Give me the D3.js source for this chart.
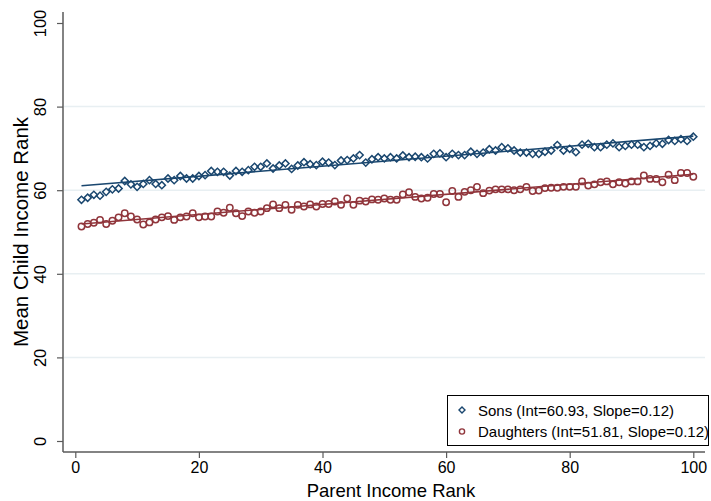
<!DOCTYPE html>
<html>
<head>
<meta charset="utf-8">
<script src="https://cdn.jsdelivr.net/npm/d3@7"></script>
<style>
  html, body { margin: 0; padding: 0; background: #fff; }
  svg { display: block; font-family: "Liberation Sans", Arial, sans-serif; }
</style>
</head>
<body>
<svg id="chart" width="711" height="501"></svg>
<script>
// Parent income rank (1..100)
const parentRank = d3.range(1, 101);

// Mean child income rank, sons
const sonsRank = [
  57.7, 58.2, 58.9, 58.7, 59.6, 60.2, 60.4, 62.2, 61.4, 60.8,
  61.5, 62.4, 61.5, 61.2, 62.8, 62.4, 63.4, 62.8, 62.8, 63.4,
  63.6, 64.6, 64.4, 64.4, 63.5, 64.6, 64.4, 64.8, 65.6, 65.6,
  66.4, 65.2, 65.9, 66.4, 65.1, 65.9, 66.7, 66.2, 66.0, 66.8,
  66.6, 66.0, 67.1, 67.2, 67.6, 68.4, 66.6, 67.4, 67.9, 67.6,
  67.9, 67.6, 68.3, 67.9, 68.0, 67.9, 67.6, 68.7, 68.8, 67.9,
  68.7, 68.4, 68.4, 69.2, 68.7, 69.0, 69.8, 69.5, 70.3, 70.0,
  69.5, 69.0, 69.0, 68.7, 68.7, 69.2, 69.5, 70.8, 69.5, 69.9,
  69.1, 70.9, 71.1, 70.3, 70.3, 70.9, 71.2, 70.3, 70.6, 70.9,
  70.9, 70.3, 70.6, 71.2, 71.1, 72.0, 71.8, 72.2, 71.8, 72.8
];

// Mean child income rank, daughters
const daughtersRank = [
  51.3, 51.9, 52.2, 52.9, 51.9, 52.7, 53.5, 54.5, 53.7, 53.0,
  51.8, 52.3, 53.0, 53.5, 53.8, 52.9, 53.5, 53.7, 54.5, 53.5,
  53.7, 53.7, 54.9, 54.6, 55.8, 54.5, 53.8, 54.9, 54.6, 54.9,
  55.7, 56.6, 55.7, 56.5, 55.3, 56.5, 56.1, 56.6, 56.1, 56.7,
  56.7, 57.3, 56.5, 58.0, 56.5, 57.5, 57.3, 57.8, 57.7, 58.0,
  57.7, 57.7, 59.0, 59.5, 58.4, 58.0, 58.2, 59.1, 59.1, 57.1,
  59.8, 58.4, 59.6, 60.0, 60.8, 59.3, 59.9, 60.2, 60.2, 60.2,
  60.0, 60.2, 60.8, 59.8, 59.9, 60.5, 60.6, 60.6, 60.8, 60.8,
  60.8, 62.1, 61.1, 61.4, 61.9, 62.1, 61.4, 61.9, 61.6, 62.1,
  62.1, 63.5, 62.7, 62.7, 61.9, 63.7, 62.4, 64.1, 64.1, 63.2
];

// Linear fits (intercept, slope)
const sonsFit = { int: 60.93, slope: 0.12 };
const daughtersFit = { int: 51.81, slope: 0.12 };

const xTicks = [0, 20, 40, 60, 80, 100];
const yTicks = [0, 20, 40, 60, 80, 100];
const legendLabels = [
  "Sons (Int=60.93, Slope=0.12)",
  "Daughters (Int=51.81, Slope=0.12)"
];

const navy = "#1a476f";
const maroon = "#90353b";
const gridColor = "#e8eff2";
const axisColor = "#5a5a5a";

const svg = d3.select("#chart");

const x = d3.scaleLinear().domain([0, 100]).range([75.3, 693.3]);
const y = d3.scaleLinear().domain([0, 100]).range([441, 23]);

const axisLeft = 63, axisBottom = 452, plotRight = 705, plotTop = 12;

// Horizontal gridlines
svg.append("g")
  .selectAll("line")
  .data(yTicks.filter(t => t > 0 && t < 100))
  .join("line")
  .attr("x1", axisLeft + 1).attr("x2", plotRight)
  .attr("y1", d => y(d)).attr("y2", d => y(d))
  .attr("stroke", gridColor).attr("stroke-width", 1.5);

// Y axis
const yAxis = svg.append("g").attr("transform", `translate(${axisLeft},0)`)
  .call(d3.axisLeft(y).tickValues(yTicks).tickSize(6).tickPadding(4).tickFormat(d3.format("d")));
yAxis.select(".domain").remove();
yAxis.selectAll(".tick line").attr("stroke", axisColor).attr("stroke-width", 1.2);
yAxis.selectAll(".tick text")
  .attr("x", 0).attr("y", 0).attr("dy", null)
  .attr("transform", "translate(-23,0) rotate(-90)")
  .attr("text-anchor", "middle")
  .attr("dominant-baseline", "central")
  .attr("font-size", 16.5).attr("fill", "#000")
  .style("font-family", "Liberation Sans, Arial, sans-serif");

// X axis
const xAxis = svg.append("g").attr("transform", `translate(0,${axisBottom})`)
  .call(d3.axisBottom(x).tickValues(xTicks).tickSize(6).tickPadding(4).tickFormat(d3.format("d")));
xAxis.select(".domain").remove();
xAxis.selectAll(".tick line").attr("stroke", axisColor).attr("stroke-width", 1.2);
xAxis.selectAll(".tick text")
  .attr("font-size", 16).attr("fill", "#000")
  .style("font-family", "Liberation Sans, Arial, sans-serif");

// Axis lines
svg.append("line").attr("x1", axisLeft).attr("x2", axisLeft)
  .attr("y1", plotTop).attr("y2", axisBottom)
  .attr("stroke", axisColor).attr("stroke-width", 1.5);
svg.append("line").attr("x1", axisLeft).attr("x2", plotRight)
  .attr("y1", axisBottom).attr("y2", axisBottom)
  .attr("stroke", axisColor).attr("stroke-width", 1.5);

// Axis titles
svg.append("text")
  .attr("transform", `translate(20,${(plotTop + axisBottom) / 2}) rotate(-90)`)
  .attr("text-anchor", "middle")
  .attr("dominant-baseline", "central")
  .attr("font-size", 20.5)
  .text("Mean Child Income Rank");
svg.append("text")
  .attr("x", (axisLeft + plotRight) / 2 + 7).attr("y", 497)
  .attr("text-anchor", "middle")
  .attr("font-size", 18.5)
  .text("Parent Income Rank");

// Fit lines
const fitLine = (fit) => d3.line()
  .x(d => x(d))
  .y(d => y(fit.int + fit.slope * d))([parentRank[0], parentRank[parentRank.length - 1]]);

svg.append("path").attr("d", fitLine(sonsFit))
  .attr("fill", "none").attr("stroke", navy).attr("stroke-width", 1.6);
svg.append("path").attr("d", fitLine(daughtersFit))
  .attr("fill", "none").attr("stroke", maroon).attr("stroke-width", 1.6);

// Scatter markers
const diamond = d3.symbol().type(d3.symbolSquare).size(26);
svg.append("g")
  .selectAll("path")
  .data(parentRank.map((r, i) => [r, sonsRank[i]]))
  .join("path")
  .attr("d", diamond)
  .attr("transform", d => `translate(${x(d[0])},${y(d[1])}) rotate(45)`)
  .attr("fill", "none").attr("stroke", navy).attr("stroke-width", 1.5);

svg.append("g")
  .selectAll("circle")
  .data(parentRank.map((r, i) => [r, daughtersRank[i]]))
  .join("circle")
  .attr("cx", d => x(d[0])).attr("cy", d => y(d[1]))
  .attr("r", 3.2)
  .attr("fill", "none").attr("stroke", maroon).attr("stroke-width", 1.5);

// Legend
const legend = svg.append("g");
legend.append("rect")
  .attr("x", 447.5).attr("y", 395.5).attr("width", 261).attr("height", 50)
  .attr("fill", "#fff").attr("stroke", "#000").attr("stroke-width", 1);

const legendRows = [
  { label: legendLabels[0], color: navy, kind: "diamond" },
  { label: legendLabels[1], color: maroon, kind: "circle" }
];
legendRows.forEach((row, i) => {
  const cy = 410 + i * 21.5;
  if (row.kind === "diamond") {
    legend.append("path")
      .attr("d", d3.symbol().type(d3.symbolSquare).size(18)())
      .attr("transform", `translate(462,${cy}) rotate(45)`)
      .attr("fill", "none").attr("stroke", row.color).attr("stroke-width", 1.4);
  } else {
    legend.append("circle").attr("cx", 462).attr("cy", cy).attr("r", 2.6)
      .attr("fill", "none").attr("stroke", row.color).attr("stroke-width", 1.4);
  }
  legend.append("text")
    .attr("x", 478).attr("y", cy)
    .attr("dominant-baseline", "central")
    .attr("font-size", 15)
    .text(row.label);
});
</script>
</body>
</html>
